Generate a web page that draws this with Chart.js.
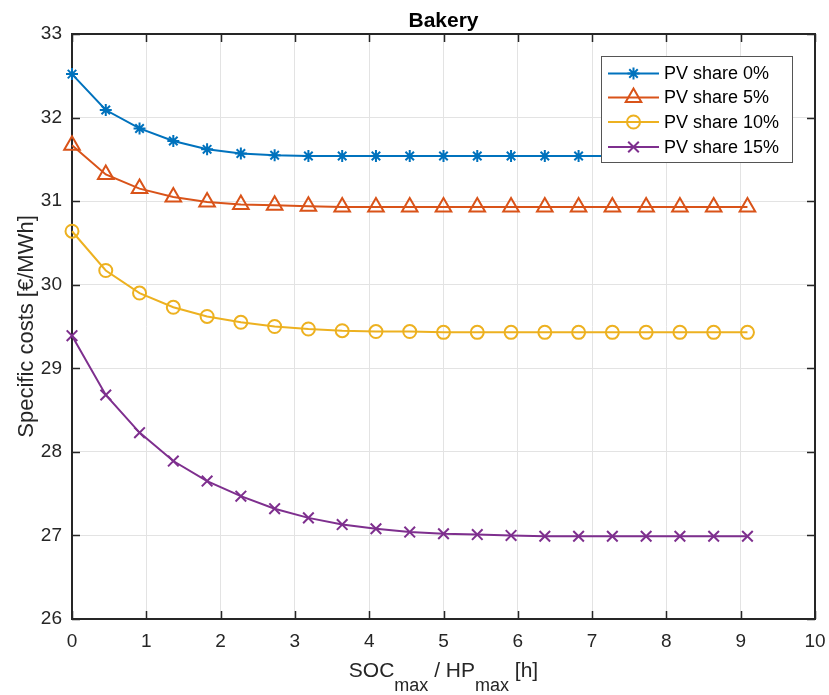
<!DOCTYPE html>
<html>
<head>
<meta charset="utf-8">
<script src="https://cdn.jsdelivr.net/npm/chart.js@4/dist/chart.umd.min.js"></script>
<style>
  html, body { margin: 0; padding: 0; background: #fff; }
</style>
</head>
<body>
<canvas id="costChart" width="829" height="695"></canvas>
<script>
// storage size relative to heat pump power [h]
const socHours = [0, 0.4545, 0.9091, 1.3636, 1.8182, 2.2727, 2.7273, 3.1818, 3.6364, 4.0909, 4.5455,
  5.0, 5.4545, 5.9091, 6.3636, 6.8182, 7.2727, 7.7273, 8.1818, 8.6364, 9.0909];

// specific costs [€/MWh]
const pvShare0 = [32.52, 32.09, 31.87, 31.72, 31.62, 31.57, 31.55, 31.54, 31.54, 31.54, 31.54,
  31.54, 31.54, 31.54, 31.54, 31.54, 31.54, 31.54, 31.54, 31.54, 31.54];
const pvShare5 = [31.67, 31.32, 31.15, 31.05, 30.99, 30.96, 30.95, 30.94, 30.93, 30.93, 30.93,
  30.93, 30.93, 30.93, 30.93, 30.93, 30.93, 30.93, 30.93, 30.93, 30.93];
const pvShare10 = [30.64, 30.17, 29.90, 29.73, 29.62, 29.55, 29.50, 29.47, 29.45, 29.44, 29.44,
  29.43, 29.43, 29.43, 29.43, 29.43, 29.43, 29.43, 29.43, 29.43, 29.43];
const pvShare15 = [29.39, 28.68, 28.23, 27.89, 27.65, 27.47, 27.32, 27.21, 27.13, 27.08, 27.04,
  27.02, 27.01, 27.00, 26.99, 26.99, 26.99, 26.99, 26.99, 26.99, 26.99];

const seriesLabels = ['PV share 0%', 'PV share 5%', 'PV share 10%', 'PV share 15%'];
const xTickValues = [0, 1, 2, 3, 4, 5, 6, 7, 8, 9, 10];
const yTickValues = [26, 27, 28, 29, 30, 31, 32, 33];

const FONT = "'Liberation Sans', Arial, Helvetica, sans-serif";
const axisColor = '#262626';

const seriesStyles = [
  { color: '#0072BD', pointStyle: 'star', radius: 6 },
  { color: '#D95319', pointStyle: 'triangle', radius: 9 },
  { color: '#EDB120', pointStyle: 'circle', radius: 6.5 },
  { color: '#7E2F8E', pointStyle: 'crossRot', radius: 7.5 }
];

function makeDataset(label, values, style) {
  return {
    label: label,
    data: values.map((v, i) => ({ x: socHours[i], y: v })),
    borderColor: style.color,
    backgroundColor: style.color,
    borderWidth: 2,
    tension: 0,
    clip: false,
    pointStyle: style.pointStyle,
    pointRadius: style.radius,
    pointHoverRadius: style.radius,
    pointBorderWidth: 2,
    pointBorderColor: style.color,
    pointBackgroundColor: 'rgba(0,0,0,0)'
  };
}

// box around the axes with inward ticks, like matlab
const axesBox = {
  id: 'axesBox',
  beforeDatasetsDraw(chart) {
    const { ctx, chartArea: a, scales: { x, y } } = chart;
    const tickLen = 8;
    ctx.save();
    ctx.strokeStyle = axisColor;
    ctx.lineWidth = 1.5;
    ctx.beginPath();
    xTickValues.forEach(v => {
      const px = Math.round(x.getPixelForValue(v)) + 0.5;
      ctx.moveTo(px, a.bottom); ctx.lineTo(px, a.bottom - tickLen);
      ctx.moveTo(px, a.top); ctx.lineTo(px, a.top + tickLen);
    });
    yTickValues.forEach(v => {
      const py = Math.round(y.getPixelForValue(v)) + 0.5;
      ctx.moveTo(a.left, py); ctx.lineTo(a.left + tickLen, py);
      ctx.moveTo(a.right, py); ctx.lineTo(a.right - tickLen, py);
    });
    ctx.stroke();
    ctx.lineWidth = 2;
    ctx.strokeRect(a.left, a.top, a.right - a.left, a.bottom - a.top);
    ctx.restore();
  }
};

// title, axis labels (with subscripts) and the legend box
const annotations = {
  id: 'annotations',
  afterDraw(chart) {
    const { ctx, chartArea: a } = chart;
    const cx = (a.left + a.right) / 2;
    ctx.save();
    ctx.fillStyle = '#000';
    ctx.textAlign = 'center';
    ctx.textBaseline = 'alphabetic';
    ctx.font = 'bold 21px ' + FONT;
    ctx.fillText('Bakery', cx, 27);

    // x label: SOC_max / HP_max [h]
    ctx.fillStyle = axisColor;
    const parts = [
      { t: 'SOC', sub: false }, { t: 'max', sub: true },
      { t: ' / HP', sub: false }, { t: 'max', sub: true },
      { t: ' [h]', sub: false }
    ];
    const mainFont = '21px ' + FONT;
    const subFont = '18px ' + FONT;
    let total = 0;
    parts.forEach(p => { ctx.font = p.sub ? subFont : mainFont; p.w = ctx.measureText(p.t).width; total += p.w; });
    let px = cx - total / 2;
    ctx.textAlign = 'left';
    parts.forEach(p => {
      ctx.font = p.sub ? subFont : mainFont;
      ctx.fillText(p.t, px, p.sub ? 691 : 677);
      px += p.w;
    });

    // y label
    ctx.save();
    ctx.translate(33, (a.top + a.bottom) / 2);
    ctx.rotate(-Math.PI / 2);
    ctx.textAlign = 'center';
    ctx.font = '22px ' + FONT;
    ctx.fillText('Specific costs [€/MWh]', 0, 0);
    ctx.restore();

    // legend
    const box = { left: 601, top: 56, right: 792, bottom: 162 };
    ctx.fillStyle = '#fff';
    ctx.fillRect(box.left, box.top, box.right - box.left, box.bottom - box.top);
    ctx.strokeStyle = '#555';
    ctx.lineWidth = 1;
    ctx.strokeRect(box.left + 0.5, box.top + 0.5, box.right - box.left, box.bottom - box.top);
    const rowY = [73.5, 97.5, 122, 147];
    seriesLabels.forEach((label, i) => {
      const s = seriesStyles[i];
      const y = rowY[i];
      ctx.strokeStyle = s.color;
      ctx.lineWidth = 2;
      ctx.beginPath();
      ctx.moveTo(608, y); ctx.lineTo(659, y);
      ctx.stroke();
      ctx.fillStyle = 'rgba(0,0,0,0)';
      Chart.helpers.drawPoint(ctx, { pointStyle: s.pointStyle, radius: s.radius, borderWidth: 2, rotation: 0 }, 633.5, y);
      ctx.fillStyle = '#000';
      ctx.font = '18px ' + FONT;
      ctx.textAlign = 'left';
      ctx.textBaseline = 'middle';
      ctx.fillText(label, 664, y + 1);
    });
    ctx.restore();
  }
};

new Chart(document.getElementById('costChart'), {
  type: 'line',
  data: {
    datasets: [
      makeDataset(seriesLabels[0], pvShare0, seriesStyles[0]),
      makeDataset(seriesLabels[1], pvShare5, seriesStyles[1]),
      makeDataset(seriesLabels[2], pvShare10, seriesStyles[2]),
      makeDataset(seriesLabels[3], pvShare15, seriesStyles[3])
    ]
  },
  options: {
    responsive: false,
    animation: false,
    devicePixelRatio: 1,
    layout: { padding: { top: 34, right: 14, bottom: 0, left: 0 } },
    plugins: {
      legend: { display: false },
      title: { display: false },
      tooltip: { enabled: false }
    },
    scales: {
      x: {
        type: 'linear',
        min: 0,
        max: 10,
        afterBuildTicks: scale => { scale.ticks = xTickValues.map(v => ({ value: v })); },
        afterFit: scale => {
          scale.height = 76;
          scale.paddingLeft = 0;
          scale.paddingRight = 0;
        },
        grid: { color: '#e3e3e3', lineWidth: 1, drawTicks: false },
        border: { display: false },
        ticks: { color: axisColor, font: { family: FONT, size: 19 }, padding: 11, maxRotation: 0 }
      },
      y: {
        min: 26,
        max: 33,
        afterBuildTicks: scale => { scale.ticks = yTickValues.map(v => ({ value: v })); },
        afterFit: scale => {
          scale.width = 72;
          scale.paddingTop = 0;
          scale.paddingBottom = 0;
        },
        grid: { color: '#e3e3e3', lineWidth: 1, drawTicks: false },
        border: { display: false },
        ticks: { color: axisColor, font: { family: FONT, size: 19 }, padding: 10 }
      }
    }
  },
  plugins: [axesBox, annotations]
});
</script>
</body>
</html>
